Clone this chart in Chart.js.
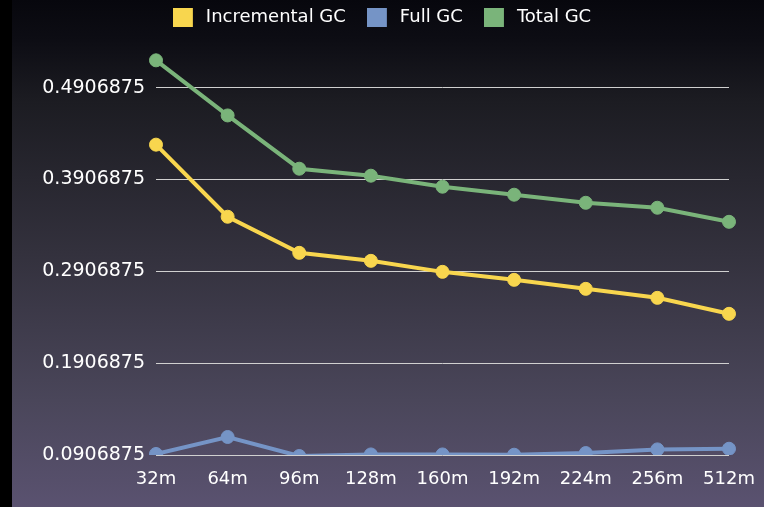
<!DOCTYPE html>
<html>
<head>
<meta charset="utf-8">
<script src="https://cdn.jsdelivr.net/npm/chart.js@4/dist/chart.umd.min.js"></script>
<style>
html,body{margin:0;padding:0;background:#000;}
#wrap{width:764px;height:507px;position:relative;}
</style>
</head>
<body>
<div id="wrap"><canvas id="c" width="764" height="507"></canvas></div>
<script>
const categories = ['32m','64m','96m','128m','160m','192m','224m','256m','512m'];
const incrementalGC = [0.4286, 0.3501, 0.3108, 0.3021, 0.2901, 0.2814, 0.2716, 0.2618, 0.2444];
const fullGC = [0.0918, 0.1103, 0.0896, 0.0913, 0.0913, 0.0910, 0.0928, 0.0968, 0.0975];
const totalGC = [0.5204, 0.4604, 0.4024, 0.3948, 0.3828, 0.3741, 0.3653, 0.3599, 0.3446];
const yTickValues = [0.0906875, 0.1906875, 0.2906875, 0.3906875, 0.4906875];
const yTickLabels = ['0.0906875', '0.1906875', '0.2906875', '0.3906875', '0.4906875'];
const seriesColors = ['#f8d64e', '#7594c6', '#7ab47a'];

const bgPlugin = {
  id: 'bg',
  beforeDraw(chart) {
    const ctx = chart.ctx;
    const w = chart.width, h = chart.height;
    ctx.save();
    ctx.fillStyle = '#000';
    ctx.fillRect(0, 0, w, h);
    const g = ctx.createLinearGradient(0, 0, 0, h);
    g.addColorStop(0, '#07070d');
    g.addColorStop(0.08, '#0d0d14');
    g.addColorStop(0.2, '#1c1c22');
    g.addColorStop(0.5, '#33313d');
    g.addColorStop(0.79, '#4a465a');
    g.addColorStop(1, '#5a5270');
    ctx.fillStyle = g;
    ctx.fillRect(12, 0, w - 12, h);
    ctx.restore();
  }
};

// legend swatch: 20x19 square on the left of a 24px-wide transparent canvas
function swatch(color) {
  const c = document.createElement('canvas');
  c.width = 24; c.height = 19;
  const x = c.getContext('2d');
  x.fillStyle = color;
  x.fillRect(0, 0, 20, 19);
  return c;
}
const swatches = seriesColors.map(swatch);

function ds(label, data, color) {
  return {
    label, data,
    borderColor: color, backgroundColor: color,
    pointBackgroundColor: color, pointBorderColor: color,
    borderWidth: 4, pointRadius: 6.5, pointBorderWidth: 1,
    tension: 0, fill: false
  };
}

new Chart(document.getElementById('c'), {
  type: 'line',
  data: {
    labels: categories,
    datasets: [
      ds('Incremental GC', incrementalGC, seriesColors[0]),
      ds('Full GC', fullGC, seriesColors[1]),
      ds('Total GC', totalGC, seriesColors[2])
    ]
  },
  options: {
    responsive: false,
    animation: false,
    layout: { autoPadding: false, padding: { left: 0, right: 0, top: -13, bottom: 0 } },
    plugins: {
      legend: {
        display: true,
        position: 'top',
        labels: {
          color: '#ffffff',
          usePointStyle: true,
          pointStyleWidth: 24,
          boxHeight: 19,
          padding: 21,
          font: { family: 'DejaVu Sans', size: 18 },
          generateLabels(chart) {
            const items = Chart.defaults.plugins.legend.labels.generateLabels(chart);
            items.forEach((it, i) => { it.pointStyle = swatches[i]; });
            return items;
          }
        }
      },
      tooltip: { enabled: false }
    },
    scales: {
      x: {
        offset: false,
        grid: { display: false, drawTicks: false },
        border: { display: false },
        ticks: {
          color: '#ffffff', padding: 14, maxRotation: 0, autoSkip: false,
          font: { family: 'DejaVu Sans', size: 18 }
        },
        afterFit(scale) { scale.height = 52; scale.paddingLeft = 0; scale.paddingRight = 35; }
      },
      y: {
        min: 0.0906875,
        max: 0.5469,
        grid: { color: '#d0d0d0', lineWidth: 1, drawTicks: false },
        border: { display: false },
        afterBuildTicks(scale) { scale.ticks = yTickValues.map(v => ({ value: v })); },
        ticks: {
          color: '#ffffff', padding: 11,
          font: { family: 'DejaVu Sans', size: 19 },
          callback(value) {
            const i = yTickValues.findIndex(v => Math.abs(v - value) < 1e-9);
            return i >= 0 ? yTickLabels[i] : '';
          }
        },
        afterFit(scale) { scale.width = 156; }
      }
    }
  },
  plugins: [bgPlugin]
});
</script>
</body>
</html>
